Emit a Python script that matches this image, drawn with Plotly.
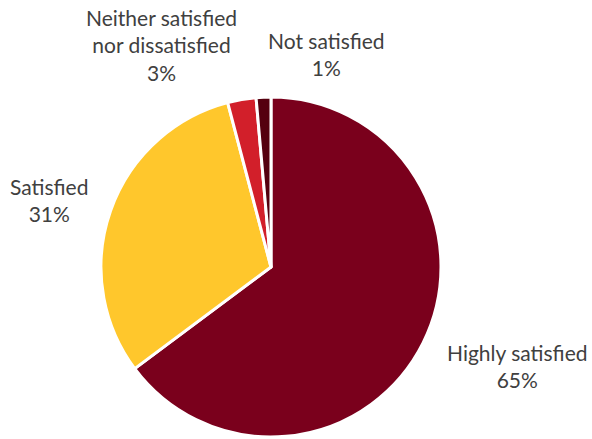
import plotly.graph_objects as go

categories = ["Highly satisfied", "Satisfied", "Neither satisfied<br>nor dissatisfied", "Not satisfied"]
shares = [64.8, 31.1, 2.7, 1.4]
colors = ["#7A001C", "#FFC72C", "#D21F2A", "#55000F"]

# label anchor points (pixels in the 592x439 page)
label_x = [517, 49, 161, 326]
label_y = [366, 200, 45, 54]

W, H = 592, 439
M_T, M_B = 97, 2
plot_h = H - M_T - M_B

fig = go.Figure(go.Pie(
    labels=categories,
    values=shares,
    sort=False,
    direction="clockwise",
    rotation=0,
    marker=dict(colors=colors, line=dict(color="white", width=3)),
    textinfo="none",
    domain=dict(x=[0, 0.9155], y=[0, 1]),
    showlegend=False,
    hoverinfo="label+percent",
))

total = sum(shares)
for name, v, x, y in zip(categories, shares, label_x, label_y):
    fig.add_annotation(
        x=x / W, y=(H - M_B - y) / plot_h, xref="paper", yref="paper",
        text=f"{name}<br>{round(100 * v / total)}%",
        showarrow=False, xanchor="center", yanchor="middle", align="center",
        font=dict(family="Lato, Open Sans, sans-serif", size=21, color="#404040"),
    )

fig.update_layout(
    width=W,
    height=H,
    margin=dict(l=0, r=0, t=M_T, b=M_B),
    paper_bgcolor="white",
    plot_bgcolor="white",
)

fig.write_html("out.html")
